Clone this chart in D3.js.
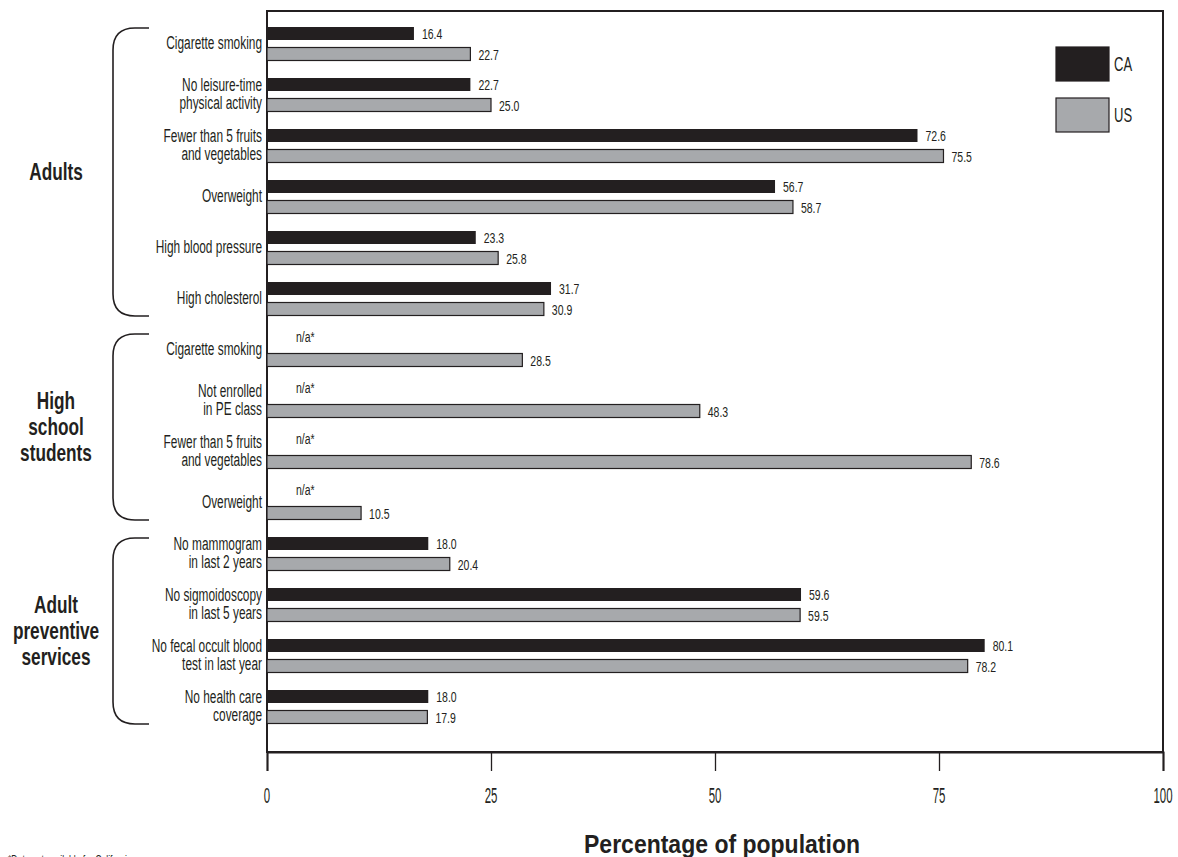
<!DOCTYPE html>
<html>
<head>
<meta charset="utf-8">
<script src="https://cdn.jsdelivr.net/npm/d3@7"></script>
<style>
  html, body { margin: 0; padding: 0; background: #fff; }
  svg { display: block; }
  text { fill: #231f20; }
</style>
</head>
<body>
<svg id="chart" width="1178" height="857"></svg>
<script>
const categories = [
  "Cigarette smoking",
  "No leisure-time\nphysical activity",
  "Fewer than 5 fruits\nand vegetables",
  "Overweight",
  "High blood pressure",
  "High cholesterol",
  "Cigarette smoking ",
  "Not enrolled\nin PE class",
  "Fewer than 5 fruits \nand vegetables",
  "Overweight ",
  "No mammogram\nin last 2 years",
  "No sigmoidoscopy\nin last 5 years",
  "No fecal occult blood\ntest in last year",
  "No health care\ncoverage"
];
const caValues = [16.4, 22.7, 72.6, 56.7, 23.3, 31.7, null, null, null, null, 18.0, 59.6, 80.1, 18.0];
const usValues = [22.7, 25.0, 75.5, 58.7, 25.8, 30.9, 28.5, 48.3, 78.6, 10.5, 20.4, 59.5, 78.2, 17.9];
const seriesNames = ["CA", "US"];
const groups = [
  { name: ["Adults"], first: 0, last: 5 },
  { name: ["High", "school", "students"], first: 6, last: 9 },
  { name: ["Adult", "preventive", "services"], first: 10, last: 13 }
];
const xTicks = [0, 25, 50, 75, 100];
const naLabel = "n/a*";
const xTitle = "Percentage of population";
const footnote = "*Data not available for California.";

const ink = "#231f20";
const grey = "#a7a9ac";
const font = "'Liberation Sans', Arial, sans-serif";

const svg = d3.select("#chart");
const plotLeft = 267, plotRight = 1163, plotTop = 11, plotBottom = 752;

const x = d3.scaleLinear().domain([0, 100]).range([plotLeft, plotRight]);
const y = d3.scaleBand().domain(d3.range(categories.length)).range([18.5, 18.5 + 51 * categories.length]);
const center = i => y(i) + y.bandwidth() / 2;

// condensed text helper: horizontal squeeze of a normal face
function ctext(parent, px, py, lines, o) {
  const g = parent.append("g").attr("transform", `translate(${px},${py}) scale(${o.sx},1)`);
  const t = g.append("text")
    .attr("font-family", font)
    .attr("font-size", o.size)
    .attr("font-weight", o.bold ? "bold" : "normal")
    .attr("text-anchor", o.anchor || "start");
  const arr = Array.isArray(lines) ? lines : [lines];
  const lh = o.lh || o.size;
  arr.forEach((ln, k) => {
    t.append("tspan").attr("x", 0).attr("y", (k - (arr.length - 1) / 2) * lh).attr("dy", "0.35em").text(ln);
  });
  return g;
}

// Frame
svg.append("rect")
  .attr("x", plotLeft).attr("y", plotTop)
  .attr("width", plotRight - plotLeft).attr("height", plotBottom - plotTop)
  .attr("fill", "none").attr("stroke", ink).attr("stroke-width", 2);

// X axis (ticks through d3.axisBottom, labels squeezed)
const axis = d3.axisBottom(x).tickValues(xTicks).tickSize(19).tickFormat("");
const gx = svg.append("g").attr("transform", `translate(0,${plotBottom})`).call(axis);
gx.select(".domain").attr("stroke", ink).attr("stroke-width", 2);
gx.selectAll(".tick line").attr("stroke", ink).attr("stroke-width", 1.3);
xTicks.forEach(v => {
  ctext(svg, x(v), 795, String(v), { size: 22, sx: 0.52, anchor: "middle" });
});

// Bars
const barH = 13;
const data = categories.map((c, i) => ({ i, ca: caValues[i], us: usValues[i] }));

svg.append("g").selectAll("rect")
  .data(data.filter(d => d.ca != null))
  .join("rect")
  .attr("x", x(0)).attr("y", d => center(d.i) - 17)
  .attr("width", d => x(d.ca) - x(0)).attr("height", barH)
  .attr("fill", ink);

svg.append("g").selectAll("rect")
  .data(data)
  .join("rect")
  .attr("x", x(0)).attr("y", d => center(d.i) + 3.5)
  .attr("width", d => x(d.us) - x(0)).attr("height", barH)
  .attr("fill", grey).attr("stroke", ink).attr("stroke-width", 1.2);

// Value labels
const vl = svg.append("g");
const vOpt = { size: 15, sx: 0.70 };
data.forEach(d => {
  if (d.ca != null) {
    ctext(vl, x(d.ca) + 8, center(d.i) - 10.5, d3.format(".1f")(d.ca), vOpt);
  } else {
    ctext(vl, x(0) + 29, center(d.i) - 13, naLabel, vOpt);
  }
  ctext(vl, x(d.us) + 8, center(d.i) + 11, d3.format(".1f")(d.us), vOpt);
});

// Category labels
const cl = svg.append("g");
categories.forEach((c, i) => {
  const lines = c.trim().split("\n").map(s => s.trim());
  ctext(cl, plotLeft - 5, center(i) - 1, lines, { size: 18, sx: 0.66, anchor: "end", lh: 18 });
});

// Brackets and group labels
const bx = 113, bEnd = 149, r = 22;
groups.forEach(g => {
  const y0 = center(g.first) - 16;
  const y1 = center(g.last) + 17;
  const p = d3.path();
  p.moveTo(bEnd, y0);
  p.lineTo(bx + r, y0);
  p.quadraticCurveTo(bx, y0, bx, y0 + r);
  p.lineTo(bx, y1 - r);
  p.quadraticCurveTo(bx, y1, bx + r, y1);
  p.lineTo(bEnd, y1);
  svg.append("path").attr("d", p.toString()).attr("fill", "none").attr("stroke", ink).attr("stroke-width", 1.6);
  ctext(svg, 56, (y0 + y1) / 2, g.name, { size: 23, sx: 0.75, bold: true, anchor: "middle", lh: 26 });
});

// Legend
const legend = svg.append("g");
seriesNames.forEach((s, k) => {
  const ly = 47 + k * 51;
  legend.append("rect").attr("x", 1056).attr("y", ly).attr("width", 53).attr("height", 34)
    .attr("fill", k === 0 ? ink : grey).attr("stroke", ink).attr("stroke-width", 1.2);
  ctext(legend, 1114, ly + 17, s, { size: 21, sx: 0.62 });
});

// Axis title
const tg = svg.append("g").attr("transform", `translate(722,853) scale(0.92,1)`);
tg.append("text").attr("text-anchor", "middle").attr("font-family", font)
  .attr("font-weight", "bold").attr("font-size", 25).text(xTitle);

// Footnote (cut off at the bottom edge, as in the source)
const fg = svg.append("g").attr("transform", `translate(8,864) scale(0.72,1)`);
fg.append("text").attr("font-family", font).attr("font-size", 12).text(footnote);
</script>
</body>
</html>
